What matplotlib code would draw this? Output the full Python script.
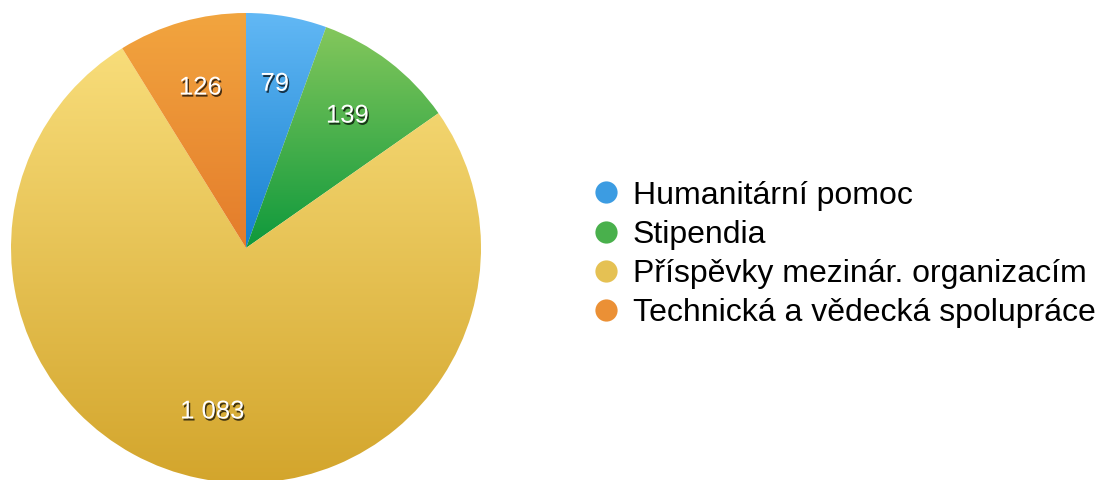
import matplotlib
matplotlib.use("Agg")
import matplotlib.pyplot as plt
import matplotlib.patheffects as pe
import numpy as np
from matplotlib.lines import Line2D
from matplotlib.colors import LinearSegmentedColormap

plt.rcParams["font.family"] = ["Liberation Sans", "DejaVu Sans"]

categories = ["Humanitární pomoc", "Stipendia", "Příspěvky mezinár. organizacím",
              "Technická a vědecká spolupráce"]
values = [79, 139, 1083, 126]
value_labels = ["79", "139", "1 083", "126"]

# (top colour, bottom colour) per slice
TOPS = ["#62b8f5", "#84c75c", "#f8dd7a", "#f2a53f"]
BOTS = ["#1680cf", "#0e993c", "#d3a52c", "#e47c2b"]

fig = plt.figure(figsize=(10.97, 4.8), dpi=100)
ax = fig.add_axes([11 / 1097, -3 / 480, 470 / 1097, 470 / 480])
ax.set_xlim(-1, 1); ax.set_ylim(-1, 1); ax.set_aspect("equal"); ax.axis("off")

wedges, texts = ax.pie(values, labels=value_labels, startangle=90, counterclock=False,
                       radius=1.0, labeldistance=0.71, center=(0, 0), frame=False,
                       textprops=dict(color="white", fontsize=18.5))
ax.set_xlim(-1, 1); ax.set_ylim(-1, 1)

for w, top, bot in zip(wedges, TOPS, BOTS):
    w.set_facecolor("none"); w.set_edgecolor("none")
    verts = w.get_path().vertices
    y0, y1 = verts[:, 1].min(), verts[:, 1].max()
    x0, x1 = verts[:, 0].min(), verts[:, 0].max()
    cmap = LinearSegmentedColormap.from_list("g", [bot, top])
    grad = np.linspace(0, 1, 256).reshape(-1, 1)
    im = ax.imshow(grad, cmap=cmap, extent=(x0, x1, y0, y1), origin="lower",
                   aspect="auto", zorder=1, interpolation="bicubic")
    im.set_clip_path(w)

for t in texts:
    t.set_ha("center"); t.set_va("center"); t.set_zorder(5)
    t.set_path_effects([pe.SimplePatchShadow(offset=(1, -1.5), shadow_rgbFace="black", alpha=0.7),
                        pe.Normal()])

mid = [matplotlib.colors.to_hex((np.array(matplotlib.colors.to_rgb(a)) +
                                 np.array(matplotlib.colors.to_rgb(b))) / 2) for a, b in zip(TOPS, BOTS)]
handles = [Line2D([], [], ls="", marker="o", markersize=16, markerfacecolor=c, markeredgecolor="none")
           for c in mid]
fig.legend(handles, categories, loc="center left", bbox_to_anchor=(0.526, 0.47), frameon=False,
           fontsize=23, labelspacing=0.29, handletextpad=0.35, handlelength=1.0, borderaxespad=0)

fig.savefig("out.png", dpi=100)
